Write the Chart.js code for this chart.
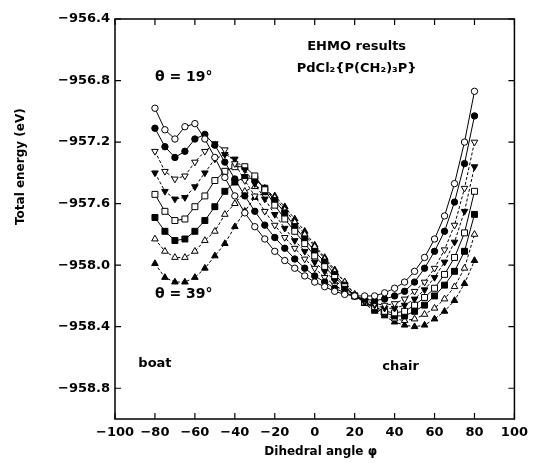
<!DOCTYPE html>
<html>
<head>
<meta charset="utf-8">
<title>EHMO results PdCl2{P(CH2)3P}</title>
<script src="https://cdn.jsdelivr.net/npm/chart.js@4.4.1/dist/chart.umd.min.js"></script>
<style>
  html, body { margin: 0; padding: 0; background: #fff; }
  #energyChart { display: block; }
</style>
</head>
<body>
<canvas id="energyChart" width="534" height="463"></canvas>
<script>
// dihedral angle phi, degrees
const angles = [-80, -75, -70, -65, -60, -55, -50, -45, -40, -35, -30, -25, -20, -15, -10, -5, 0,
                5, 10, 15, 20, 25, 30, 35, 40, 45, 50, 55, 60, 65, 70, 75, 80];

const xTicks = [-100, -80, -60, -40, -20, 0, 20, 40, 60, 80, 100];
const yTicks = [-958.8, -958.4, -958.0, -957.6, -957.2, -956.8, -956.4];

// total energy (eV), theta = 19 deg ... theta = 39 deg
const seriesNames = ['θ = 19°', 'θ (2)', 'θ (3)', 'θ (4)', 'θ (5)', 'θ (6)', 'θ (7)', 'θ = 39°'];

const energy1 = [-956.98, -957.12, -957.18, -957.10, -957.08, -957.18, -957.30, -957.43, -957.55, -957.66, -957.75,
                 -957.83, -957.91, -957.97, -958.02, -958.07, -958.11, -958.14, -958.17, -958.19, -958.20, -958.20,
                 -958.20, -958.18, -958.15, -958.11, -958.04, -957.95, -957.83, -957.68, -957.47, -957.20, -956.87];
const energy2 = [-957.11, -957.23, -957.30, -957.26, -957.18, -957.15, -957.22, -957.33, -957.44, -957.55, -957.65,
                 -957.74, -957.82, -957.89, -957.96, -958.02, -958.07, -958.11, -958.15, -958.18, -958.20, -958.22,
                 -958.23, -958.22, -958.20, -958.17, -958.11, -958.02, -957.91, -957.78, -957.59, -957.34, -957.03];
const energy3 = [-957.26, -957.39, -957.44, -957.42, -957.33, -957.26, -957.21, -957.25, -957.34, -957.45, -957.55,
                 -957.65, -957.74, -957.82, -957.89, -957.96, -958.02, -958.08, -958.13, -958.17, -958.20, -958.23,
                 -958.25, -958.26, -958.25, -958.22, -958.17, -958.11, -958.02, -957.90, -957.74, -957.50, -957.20];
const energy4 = [-957.40, -957.52, -957.57, -957.56, -957.49, -957.40, -957.31, -957.28, -957.31, -957.38, -957.47,
                 -957.57, -957.67, -957.76, -957.84, -957.91, -957.98, -958.04, -958.10, -958.15, -958.20, -958.24,
                 -958.26, -958.28, -958.28, -958.26, -958.22, -958.16, -958.08, -957.98, -957.85, -957.65, -957.36];
const energy5 = [-957.54, -957.65, -957.71, -957.70, -957.62, -957.55, -957.45, -957.39, -957.36, -957.36, -957.42,
                 -957.51, -957.61, -957.70, -957.78, -957.86, -957.94, -958.01, -958.08, -958.14, -958.20, -958.24,
                 -958.27, -958.30, -958.31, -958.30, -958.26, -958.21, -958.15, -958.06, -957.95, -957.79, -957.52];
const energy6 = [-957.69, -957.78, -957.84, -957.83, -957.78, -957.71, -957.62, -957.52, -957.46, -957.43, -957.44,
                 -957.50, -957.58, -957.66, -957.75, -957.83, -957.91, -957.98, -958.06, -958.13, -958.20, -958.24,
                 -958.28, -958.31, -958.33, -958.33, -958.30, -958.26, -958.20, -958.13, -958.04, -957.91, -957.67];
const energy7 = [-957.83, -957.91, -957.95, -957.95, -957.91, -957.84, -957.78, -957.67, -957.60, -957.52, -957.49,
                 -957.50, -957.56, -957.64, -957.72, -957.80, -957.88, -957.96, -958.04, -958.11, -958.19, -958.24,
                 -958.29, -958.32, -958.35, -958.36, -958.35, -958.32, -958.28, -958.22, -958.14, -958.02, -957.80];
const energy8 = [-957.99, -958.08, -958.11, -958.11, -958.08, -958.02, -957.94, -957.86, -957.75, -957.65, -957.56,
                 -957.53, -957.55, -957.62, -957.70, -957.78, -957.87, -957.95, -958.03, -958.11, -958.19, -958.25,
                 -958.30, -958.33, -958.37, -958.39, -958.40, -958.39, -958.35, -958.30, -958.23, -958.12, -957.97];

const allEnergies = [energy1, energy2, energy3, energy4, energy5, energy6, energy7, energy8];

// marker look for each series
const markerShapes = ['circle', 'circle', 'triangle', 'triangle', 'rect', 'rect', 'triangle', 'triangle'];
const markerFilled = [false, true, false, true, false, true, false, true];
const markerRotation = [0, 0, 180, 180, 0, 0, 0, 0];
const markerRadius = { circle: 3.2, triangle: 3.8, rect: 4.2 };

const FONT = '"DejaVu Sans", "Liberation Sans", sans-serif';

const notes = [
  { text: 'EHMO results', x: 21, y: -956.58, size: 13, align: 'center' },
  { text: 'PdCl₂{P(CH₂)₃P}', x: 21, y: -956.72, size: 13, align: 'center' },
  { text: 'θ = 19°', x: -80, y: -956.78, size: 14, align: 'left' },
  { text: 'θ = 39°', x: -80, y: -958.19, size: 14, align: 'left' },
  { text: 'boat', x: -80, y: -958.64, size: 13, align: 'center' },
  { text: 'chair', x: 43, y: -958.66, size: 13, align: 'center' }
];

const datasets = allEnergies.map((values, i) => ({
  label: seriesNames[i],
  data: angles.map((a, j) => ({ x: a, y: values[j] })),
  borderColor: '#000',
  borderWidth: 1,
  // the triangle series are joined with short dashes
  borderDash: markerShapes[i] === 'triangle' ? [3, 2] : [],
  pointStyle: markerShapes[i],
  pointRotation: markerRotation[i],
  pointRadius: markerRadius[markerShapes[i]],
  pointBorderWidth: 1,
  pointBorderColor: '#000',
  pointBackgroundColor: markerFilled[i] ? '#000' : '#fff',
  tension: 0,
  fill: false
}));

const minusSign = v => String(v).replace('-', '−');

// frame with inward tick marks on all four sides, plus the text
const framePlugin = {
  id: 'frameAndNotes',
  afterDraw(chart) {
    const { ctx, chartArea: area, scales: { x, y } } = chart;
    ctx.save();
    ctx.strokeStyle = '#000';
    ctx.lineWidth = 1.5;
    ctx.strokeRect(area.left, area.top, area.right - area.left, area.bottom - area.top);
    ctx.lineWidth = 1.2;
    const len = 6;
    ctx.beginPath();
    xTicks.forEach(v => {
      const px = x.getPixelForValue(v);
      ctx.moveTo(px, area.bottom); ctx.lineTo(px, area.bottom - len);
      ctx.moveTo(px, area.top); ctx.lineTo(px, area.top + len);
    });
    yTicks.forEach(v => {
      const py = y.getPixelForValue(v);
      ctx.moveTo(area.left, py); ctx.lineTo(area.left + len, py);
      ctx.moveTo(area.right, py); ctx.lineTo(area.right - len, py);
    });
    ctx.stroke();

    ctx.fillStyle = '#000';
    ctx.textBaseline = 'middle';
    notes.forEach(n => {
      ctx.font = 'bold ' + n.size + 'px ' + FONT;
      ctx.textAlign = n.align;
      ctx.fillText(n.text, x.getPixelForValue(n.x), y.getPixelForValue(n.y));
    });

    // axis titles
    ctx.font = 'bold 12px ' + FONT;
    ctx.textAlign = 'center';
    ctx.fillText('Dihedral angle φ', x.getPixelForValue(3), area.bottom + 33);
    ctx.translate(area.left - 94, y.getPixelForValue(-957.36));
    ctx.rotate(-Math.PI / 2);
    ctx.fillText('Total energy (eV)', 0, 0);
    ctx.restore();
  }
};

const ctx = document.getElementById('energyChart').getContext('2d');

const energyChart = new Chart(ctx, {
  type: 'line',
  data: { datasets: datasets },
  options: {
    responsive: false,
    animation: false,
    devicePixelRatio: 1,
    layout: { padding: { top: 19, right: 19, left: 0, bottom: 0 } },
    plugins: {
      legend: { display: false },
      tooltip: { enabled: false }
    },
    scales: {
      x: {
        type: 'linear',
        min: -100,
        max: 100,
        grid: { display: false, drawTicks: false },
        border: { display: false },
        afterBuildTicks: scale => { scale.ticks = xTicks.map(v => ({ value: v })); },
        afterFit: scale => { scale.height = 44; },
        ticks: {
          padding: 6,
          color: '#000',
          maxRotation: 0,
          autoSkip: false,
          font: { family: FONT, size: 13, weight: 'bold' },
          callback: v => minusSign(v)
        }
      },
      y: {
        type: 'linear',
        min: -959.0,
        max: -956.4,
        grid: { display: false, drawTicks: false },
        border: { display: false },
        afterBuildTicks: scale => { scale.ticks = yTicks.map(v => ({ value: v })); },
        afterFit: scale => { scale.width = 115; },
        ticks: {
          padding: 5,
          color: '#000',
          autoSkip: false,
          font: { family: FONT, size: 13, weight: 'bold' },
          callback: v => minusSign(v.toFixed(1))
        }
      }
    }
  },
  plugins: [framePlugin]
});
</script>
</body>
</html>
